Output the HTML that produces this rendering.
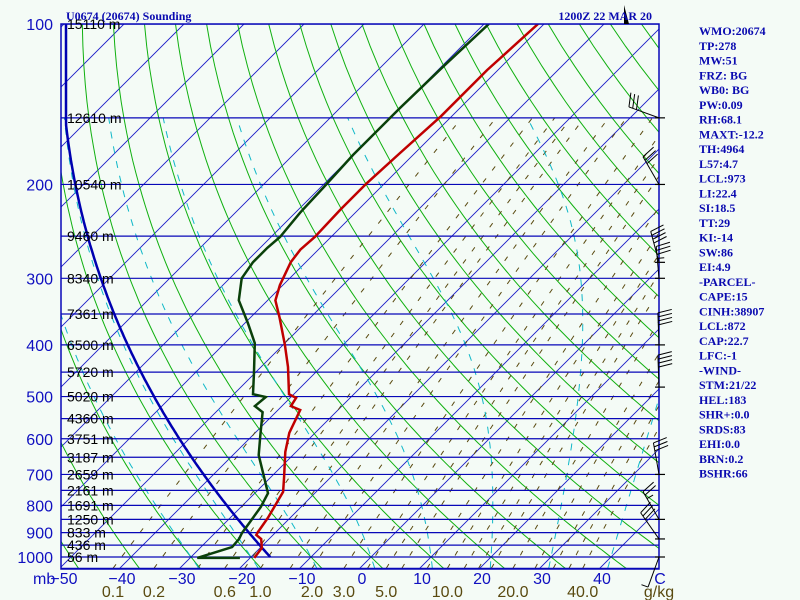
<!DOCTYPE html>
<html><head><meta charset="utf-8"><style>
body{margin:0;background:#f4fbf6;}
svg{display:block;font-family:"Liberation Sans",sans-serif;}
.pl{fill:#1010c0;font-size:16px;}
.hl{fill:#000;font-size:14px;}
.rt{fill:#0a0ab0;font-family:"Liberation Serif",serif;font-weight:bold;font-size:12px;}
</style></head><body>
<svg id="chart" width="800" height="600" viewBox="0 0 800 600">
<rect width="800" height="600" fill="#f4fbf6"/>
<defs><clipPath id="clip"><rect x="61" y="24" width="598" height="545"/></clipPath></defs>
<g id="grid" clip-path="url(#clip)"></g>
<g id="series" clip-path="url(#clip)"></g>
<g id="frame"></g>
<g id="labels"></g>
<g id="winds"></g>
<text class="rt" x="66" y="20">U0674 (20674) Sounding</text>
<text class="rt" x="652" y="20" text-anchor="end">1200Z 22 MAR 20</text>
<g id="panel"></g>
</svg>
<script>
const pressureLevels=[100,150,200,250,300,350,400,450,500,550,600,650,700,750,800,850,900,950,1000,1050];
const labelPressures=[100,200,300,400,500,600,700,800,900,1000];
const heightPressures=[100,150,200,250,300,350,400,450,500,550,600,650,700,750,800,850,900,950,1000];
const heightLabels=["15110 m","12610 m","10540 m","9460 m","8340 m","7361 m","6500 m","5720 m","5020 m","4360 m","3751 m","3187 m","2659 m","2161 m","1691 m","1250 m","833 m","436 m","56 m"];
const tempTicks=[-50,-40,-30,-20,-10,0,10,20,30,40];
const mixingTicks=[0.1,0.2,0.6,1.0,2.0,3.0,5.0,10.0,20.0,40.0];
const mixingLines=[0.1,0.2,0.4,0.6,0.8,1,1.5,2,3,4,5,6,8,10,12,14,16,20,25,30,35,40];
const dryAdiabats=[-60,-50,-40,-30,-20,-10,0,10,20,30,40,50,60,70,80,90,100,110,120,130,140,150,160,170,180,190];
const moistAdiabats=[-30,-20,-10,0,10,20,30,40];
const tempP=[1004,962,925,909,898,845,755,708,635,585,530,521,503,495,440,400,355,330,309,280,265,251,223,199,175,149,122,100];
const tempT=[-19.3,-19.7,-21.3,-22.8,-23.0,-23.7,-25.5,-27.8,-31.8,-34.3,-36.3,-38.5,-39,-40.8,-45.5,-49.7,-55.2,-58.7,-60.5,-62.5,-63,-62.7,-63,-63,-62.5,-61.8,-61.8,-61];
const dewP=[1004,1004,958,925,902,860,806,759,644,595,535,521,501,495,450,397,364,330,300,280,263,251,226,203,176,144,120,100];
const dewT=[-21.7,-28.8,-24.8,-25,-25.5,-26,-26.7,-27.8,-35.7,-38.5,-42.2,-44.5,-44.2,-46.8,-50.3,-55,-59.5,-64.8,-68,-68.8,-68.8,-68.5,-69.2,-69.5,-70,-70,-69.7,-69.2];
const parcelStartP=[1000];
const parcelStartT=[-16.8];
const windP=[150,200,280,300,400,480,700,850,925,1000];
const windDir=[290,330,345,355,358,358,350,330,325,200];
const windSpd=[30,30,40,35,40,40,30,25,30,5];
const panelLines=["WMO:20674","TP:278","MW:51","FRZ: BG","WB0: BG","PW:0.09","RH:68.1","MAXT:-12.2","TH:4964","L57:4.7","LCL:973","LI:22.4","SI:18.5","TT:29","KI:-14","SW:86","EI:4.9","-PARCEL-","CAPE:15","CINH:38907","LCL:872","CAP:22.7","LFC:-1","-WIND-","STM:21/22","HEL:183","SHR+:0.0","SRDS:83","EHI:0.0","BRN:0.2","BSHR:66"];

const NS="http://www.w3.org/2000/svg";
function yP(p){return 557-533*Math.log10(1000/p);}
function xT(t,p){return 359+6*t+(569-yP(p));}
function mk(tag,attrs,parent){const e=document.createElementNS(NS,tag);for(const k in attrs)e.setAttribute(k,attrs[k]);parent.appendChild(e);return e;}
function pathFrom(pts){return pts.map((q,i)=>(i?'L':'M')+q[0].toFixed(1)+' '+q[1].toFixed(1)).join(' ');}
const grid=document.getElementById('grid'),series=document.getElementById('series'),frame=document.getElementById('frame'),labels=document.getElementById('labels'),winds=document.getElementById('winds'),panel=document.getElementById('panel');

// isotherms
for(let t=-200;t<=60;t+=10){
  const e=mk('line',{x1:xT(t,1050),y1:yP(1050),x2:xT(t,100),y2:yP(100),stroke:'#1a1ac8','stroke-width':0.9},grid);
  
  
}
// dry adiabats
dryAdiabats.forEach(th=>{
  const pts=[];for(let p=1050;p>=100;p-=10){pts.push([xT((th+273.15)*Math.pow(p/1000,0.286)-273.15,p),yP(p)]);}
  const e=mk('path',{d:pathFrom(pts),fill:'none',stroke:'#10b010','stroke-width':1},grid);
  
  
});
function es(t){return 6.112*Math.exp(17.67*t/(t+243.5));}
// mixing ratio
mixingLines.forEach(w=>{
  const pts=[];for(let p=1050;p>=150;p-=10){const e=w*p/(622+w);const a=Math.log(e/6.112);pts.push([xT(243.5*a/(17.67-a),p),yP(p)]);}
  const e=mk('path',{d:pathFrom(pts),fill:'none',stroke:'#5a4a10','stroke-width':1,'stroke-dasharray':'5 10'},grid);
  
  
});
// moist adiabats
function dTdp(t,p){const T=t+273.15;const rs=0.622*es(t)/(p-es(t));const Lv=2.5e6,Rd=287,cp=1005;return ((Rd*T+Lv*rs)/(cp+Lv*Lv*rs*0.622/(Rd*T*T)))/p;}
moistAdiabats.forEach(tw=>{
  const pts=[];let t=tw;
  for(let p=1000;p<=1050;p+=5){t+=dTdp(t,p)*5;}
  t=tw;const up=[];for(let p=1000;p>=150;p-=5){up.push([xT(t,p),yP(p)]);t-=dTdp(t,p)*5;}
  let t2=tw;const dn=[];for(let p=1000;p<=1050;p+=5){dn.unshift([xT(t2,p),yP(p)]);t2+=dTdp(t2,p)*5;}
  const e=mk('path',{d:pathFrom(dn.concat(up)),fill:'none',stroke:'#10b8c8','stroke-width':1,'stroke-dasharray':'7 8'},grid);
  
  
});
// isobars
pressureLevels.forEach(p=>{
  const e=mk('line',{x1:61,y1:yP(p),x2:659,y2:yP(p),stroke:'#0808b8','stroke-width':1.2},grid);
  
  
});
// parcel
{const th=(parcelStartT[0]+273.15)/Math.pow(parcelStartP[0]/1000,0.286);const pts=[];
 for(let p=parcelStartP[0];p>=100;p-=5){let x=xT(th*Math.pow(p/1000,0.286)-273.15,p);pts.push([Math.max(x,66),yP(p)]);}
 const e=mk('path',{d:pathFrom(pts),fill:'none',stroke:'#0000b0','stroke-width':2.5},series);
 
 }
{const e=mk('path',{d:pathFrom(dewP.map((p,i)=>[xT(dewT[i],p),yP(p)])),fill:'none',stroke:'#0a400a','stroke-width':2.5},series);
 
 }
{const e=mk('path',{d:pathFrom(tempP.map((p,i)=>[xT(tempT[i],p),yP(p)])),fill:'none',stroke:'#c00000','stroke-width':2.5},series);
 
 }
// frame
{const e=mk('rect',{x:61,y:24,width:598,height:545,fill:'none',stroke:'#0808b8','stroke-width':1.5},frame);
 
 }
// pressure labels
labelPressures.forEach(p=>{
  const e=mk('text',{x:53,y:yP(p)+6,'text-anchor':'end',class:'pl'},labels);e.textContent=p;
  
  
});
heightPressures.forEach((p,i)=>{
  const e=mk('text',{x:67,y:yP(p)+5,class:'hl'},labels);e.textContent=heightLabels[i];
  
  
});
{const e=mk('text',{x:33,y:584,class:'pl'},labels);e.textContent='mb';
 
 }
tempTicks.forEach(t=>{
  const e=mk('text',{x:(t===-50?64:362+6*t),y:584,'text-anchor':'middle',class:'pl'},labels);e.textContent=(t<0?'\u2212'+(-t):t);
  
  
});
{const e=mk('text',{x:660,y:584,'text-anchor':'middle',class:'pl'},labels);e.textContent='C';
 
 }
mixingTicks.forEach(w=>{
  const e0=w*1050/(622+w);const a=Math.log(e0/6.112);const x=xT(243.5*a/(17.67-a),1050);
  const e=mk('text',{x:x,y:597,'text-anchor':'middle',fill:'#5a4a10','font-size':'16px'},labels);e.textContent=w.toFixed(1);
  
  
});
{const e=mk('text',{x:659,y:597,'text-anchor':'middle',fill:'#5a4a10','font-size':'16px'},labels);e.textContent='g/kg';
 
 }
// winds
windP.forEach((p,i)=>{
  const bx=659,by=yP(p);const a=windDir[i]*Math.PI/180;const sx=Math.sin(a)*-1,sy=-Math.cos(a)*-1;
  // staff points toward direction wind comes from
  const dx=-Math.sin(a+Math.PI)*1,dy=Math.cos(a+Math.PI)*1;
  const L=32;const ex=bx+dx*L,ey=by+dy*L;
  const g=mk('g',{},winds);
  
  
  mk('line',{x1:bx,y1:by,x2:ex,y2:ey,stroke:'#000','stroke-width':1},g);
  mk('line',{x1:bx-4,y1:by,x2:bx+6,y2:by,stroke:'#000','stroke-width':1.2},g);
  const px=-dy,py=dx;let s=windSpd[i],k=0;
  while(s>=10){const ox=ex-dx*k*4,oy=ey-dy*k*4;mk('line',{x1:ox,y1:oy,x2:ox+px*14+dx*3,y2:oy+py*14+dy*3,stroke:'#000','stroke-width':1},g);s-=10;k++;}
  if(s>=5){const ox=ex-dx*k*4,oy=ey-dy*k*4;mk('line',{x1:ox,y1:oy,x2:ox+px*7,y2:oy+py*7,stroke:'#000','stroke-width':1},g);}
});
{const e=mk('path',{d:'M624 5 L624 24 L629 24 Z',fill:'#000'},winds);
 
 }
// panel
panelLines.forEach((s,i)=>{
  const e=mk('text',{x:699,y:35+i*14.75,class:'rt'},panel);e.textContent=s;
  
  
});
</script>
</body></html>
